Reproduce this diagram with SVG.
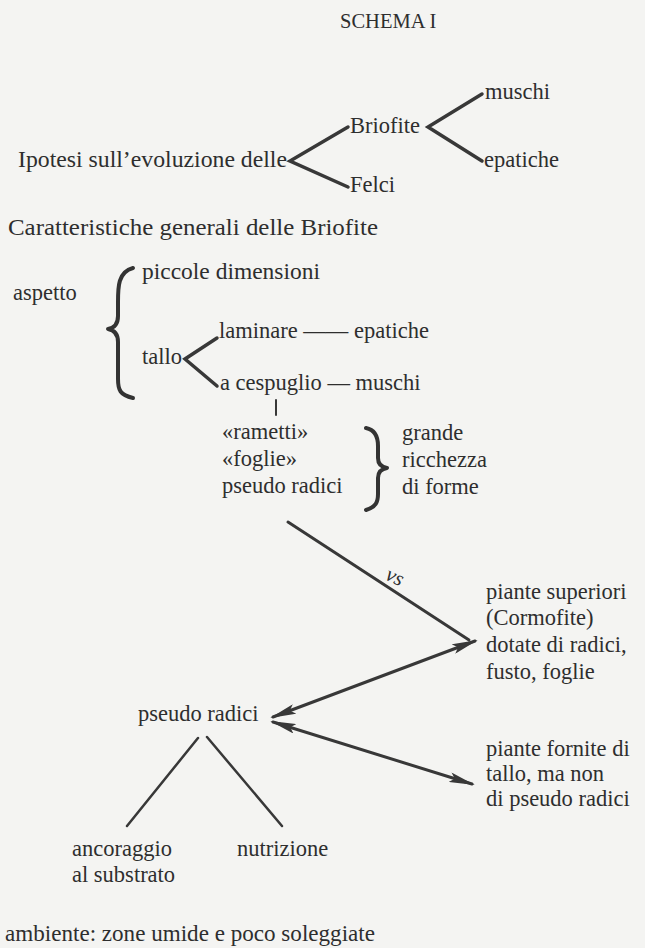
<svg xmlns="http://www.w3.org/2000/svg" width="645" height="948" viewBox="0 0 645 948">
<defs>
<style>
text{font-family:"Liberation Serif","Times New Roman",serif;font-size:22.5px;fill:#2e2e2e}
.ln{stroke:#383838;fill:none;stroke-linecap:round}
.fork{stroke-width:3.5}
.thin{stroke-width:2.5}
.arr{stroke-width:3}
.brace{stroke:#333;stroke-width:4;fill:none;stroke-linecap:round;stroke-linejoin:round}
</style>
<marker id="ah" viewBox="0 0 26 10" refX="23" refY="5" markerWidth="26" markerHeight="10" markerUnits="userSpaceOnUse" orient="auto-start-reverse">
<path d="M0,0 L26,5 L0,10 L5,5 z" fill="#383838"/>
</marker>
</defs>
<rect width="645" height="948" fill="#f4f4f2"/>

<g id="title"><text x="340" y="28" style="font-size:20.5px">SCHEMA I</text></g>
<g id="ipotesi"><text x="18" y="167" textLength="269" lengthAdjust="spacingAndGlyphs">Ipotesi sull’evoluzione delle</text></g>
<g id="briofite"><text x="350" y="133">Briofite</text></g>
<g id="felci"><text x="350" y="192">Felci</text></g>
<g id="muschi"><text x="485" y="99">muschi</text></g>
<g id="epatiche"><text x="484" y="167">epatiche</text></g>

<g id="caratteristiche"><text x="8" y="235" textLength="370" lengthAdjust="spacingAndGlyphs">Caratteristiche generali delle Briofite</text></g>
<g id="aspetto"><text x="13" y="300">aspetto</text></g>
<g id="piccole"><text x="142" y="279" textLength="178" lengthAdjust="spacingAndGlyphs">piccole dimensioni</text></g>
<g id="tallo"><text x="142" y="364">tallo</text></g>
<g id="laminare"><text x="219" y="338">laminare —— epatiche</text></g>
<g id="cespuglio"><text x="220" y="390">a cespuglio — muschi</text></g>

<g id="forme-list">
<text x="222" y="439">«rametti»</text>
<text x="222" y="466">«foglie»</text>
<text x="222" y="493">pseudo radici</text>
</g>
<g id="ricchezza">
<text x="402" y="440">grande</text>
<text x="402" y="467">ricchezza</text>
<text x="402" y="494">di forme</text>
</g>

<g id="cormofite">
<text x="486" y="599">piante superiori</text>
<text x="486" y="625">(Cormofite)</text>
<text x="486" y="652">dotate di radici,</text>
<text x="486" y="679">fusto, foglie</text>
</g>
<g id="pseudo"><text x="138" y="721">pseudo radici</text></g>
<g id="tallofite">
<text x="486" y="756">piante fornite di</text>
<text x="486" y="781">tallo, ma non</text>
<text x="486" y="806">di pseudo radici</text>
</g>
<g id="ancoraggio">
<text x="72" y="856">ancoraggio</text>
<text x="72" y="882">al substrato</text>
</g>
<g id="nutrizione"><text x="237" y="856">nutrizione</text></g>
<g id="ambiente"><text x="5" y="941" textLength="370" lengthAdjust="spacingAndGlyphs">ambiente: zone umide e poco soleggiate</text></g>

<g id="connectors">
<path class="ln fork" d="M348,127 L290,161 L348,187"/>
<path class="ln fork" d="M482,94 L428,127 L482,161"/>
<path class="brace" d="M133,268 C118,272 118,287 118,302 L118,316 C118,324 114,328 108,329 C114,330 118,334 118,342 L118,379 C118,390 120,395 133,398"/>
<path class="ln fork" d="M217,338 L185,359 L217,386"/>
<line class="ln" stroke-width="2" x1="276" y1="400" x2="276" y2="415"/>
<path class="brace" d="M366,428 C376,430 378,438 378,446 L378,458 C378,464 381,467 387,468 C381,469 378,472 378,478 L378,494 C378,502 376,507 366,510"/>
<line class="ln arr" x1="288" y1="522" x2="469" y2="640"/>
<text x="386" y="583" font-style="italic" style="font-size:21px" transform="rotate(25 394 577)">vs</text>
<line class="ln arr" x1="273" y1="717" x2="475" y2="641" marker-start="url(#ah)" marker-end="url(#ah)"/>
<line class="ln arr" x1="273" y1="722" x2="472" y2="784" marker-start="url(#ah)" marker-end="url(#ah)"/>
<line class="ln thin" x1="198" y1="738" x2="127" y2="826"/>
<line class="ln thin" x1="207" y1="737" x2="282" y2="826"/>
</g>
</svg>
